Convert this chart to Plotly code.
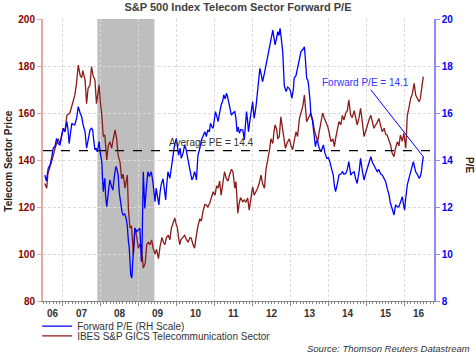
import plotly.graph_objects as go
from datetime import datetime

# ---------------- data (decimal years) ----------------
price_t = [2006.53,2006.58,2006.61,2006.67,2006.72,2006.80,2006.88,2006.93,2007.01,2007.06,
           2007.11,2007.19,2007.27,2007.32,2007.36,2007.41,2007.46,2007.50,2007.53,2007.59,
           2007.63,2007.67,2007.72,2007.76,2007.80,2007.85,2007.89,2007.93,2007.96,2007.99,
           2008.03,2008.07,2008.11,2008.16,2008.20,2008.24,2008.29,2008.32,2008.38,2008.42,
           2008.46,2008.51,2008.55,2008.59,2008.64,2008.70,2008.73,2008.77,2008.81,2008.86,
           2008.90,2008.94,2008.99,2009.03,2009.07,2009.12,2009.17,2009.21,2009.25,2009.30,
           2009.34,2009.38,2009.43,2009.47,2009.52,2009.56,2009.61,2009.65,2009.69,2009.73,
           2009.78,2009.82,2009.86,2009.90,2009.95,2009.98,2010.02,2010.05,2010.08,2010.11,
           2010.17,2010.21,2010.26,2010.30,2010.35,2010.38,2010.43,2010.47,2010.52,2010.56,
           2010.61,2010.65,2010.69,2010.74,2010.78,2010.82,2010.87,2010.92,2010.96,2011.01,
           2011.05,2011.09,2011.13,2011.17,2011.22,2011.26,2011.31,2011.35,2011.39,2011.44,
           2011.48,2011.53,2011.56,2011.61,2011.64,2011.68,2011.74,2011.78,2011.82,2011.87,
           2011.91,2011.95,2012.00,2012.04,2012.09,2012.13,2012.17,2012.22,2012.26,2012.31,
           2012.35,2012.39,2012.44,2012.48,2012.53,2012.56,2012.59,2012.63,2012.66,2012.70,
           2012.74,2012.78,2012.82,2012.86,2012.90,2012.96,2013.01,2013.05,2013.09,2013.14,
           2013.18,2013.23,2013.27,2013.32,2013.36,2013.39,2013.42,2013.47,2013.53,2013.58,
           2013.62,2013.67,2013.71,2013.75,2013.80,2013.84,2013.88,2013.93,2013.98,2014.02,
           2014.06,2014.11,2014.15,2014.18,2014.23,2014.27,2014.32,2014.36,2014.40,2014.45,
           2014.49,2014.53,2014.58,2014.62,2014.67,2014.71,2014.75,2014.80,2014.84,2014.88,
           2014.93,2014.97,2015.02,2015.06,2015.11,2015.15,2015.19,2015.24,2015.28,2015.32,
           2015.37,2015.41,2015.46,2015.50,2015.54,2015.59,2015.63,2015.67,2015.72,2015.76,
           2015.81,2015.85,2015.89,2015.94,2015.98,2016.03,2016.07,2016.11,2016.16,2016.20,
           2016.25,2016.29,2016.33,2016.38,2016.41,2016.44,2016.49]
price_v = [130,128,134,137,140,145,149,147,153.6,152,
           159,160,164.8,167.6,172,180.4,176,175,178,174,
           164,170.6,172,179.7,176,174,164,170,172,165,
           159,150,150.6,140,146,147.8,145,148,152.8,149,
           142,139,132,134,128,133.6,119,111,112,99.6,
           111,108,102.5,104,104,94,96,104,105,104,
           106,102.5,100,102,98,103,107,105,104,107,
           108,106,111,113,115.3,113,111,107,104,106,
           107,108,106,105,107,106.8,104,102.5,108,112,
           115,114,118,121,120.8,120,121.7,124,126.5,125,
           129,128,131,125,130,135,132,131,133.6,136,
           135,128,130.8,117.4,121,124,122.3,123,122,123.8,
           118.7,124,128.6,125,126.5,128,130,133.6,130,128,
           136,139,144,149,147,152,155,153,149,150,
           158.4,154,150,145,147,149,146,144.4,148,152,
           150,157.7,160,163,167.6,163,156.3,158,160,157,
           152.8,150,147.8,152,156,160,158,156.3,154,151,
           147.8,149,145.7,149,153,156.3,155,159,157,160,
           161,165.5,159,158,161,158,155,158,162,157,
           150,152,155,157,159,156,153.5,155,156,157.7,
           155,152,153.5,151,150.6,148,146.4,143,141.4,145,
           147.8,146,150.6,148,151.4,145,159,162,166.3,168,
           172.6,167.6,166,164.8,166,170.6,175.5]

pe_t = [2006.53,2006.57,2006.62,2006.67,2006.71,2006.75,2006.80,2006.84,2006.88,2006.93,
        2006.97,2007.02,2007.06,2007.11,2007.14,2007.17,2007.21,2007.24,2007.28,2007.32,
        2007.37,2007.41,2007.46,2007.50,2007.54,2007.59,2007.63,2007.67,2007.72,2007.76,
        2007.79,2007.82,2007.85,2007.88,2007.91,2007.94,2007.96,2007.99,2008.03,2008.05,
        2008.07,2008.09,2008.11,2008.13,2008.16,2008.20,2008.24,2008.28,2008.32,2008.36,
        2008.40,2008.43,2008.46,2008.49,2008.53,2008.56,2008.59,2008.63,2008.67,2008.70,
        2008.73,2008.75,2008.79,2008.82,2008.84,2008.86,2008.90,2008.95,2008.99,2009.03,
        2009.07,2009.09,2009.12,2009.16,2009.20,2009.24,2009.28,2009.33,2009.37,2009.40,
        2009.43,2009.46,2009.49,2009.53,2009.56,2009.59,2009.64,2009.68,2009.71,2009.73,
        2009.77,2009.82,2009.86,2009.90,2009.94,2009.99,2010.02,2010.05,2010.09,2010.12,
        2010.17,2010.21,2010.24,2010.28,2010.31,2010.34,2010.37,2010.40,2010.44,2010.47,
        2010.49,2010.52,2010.54,2010.56,2010.61,2010.65,2010.69,2010.74,2010.78,2010.82,
        2010.86,2010.89,2010.93,2010.96,2010.99,2011.02,2011.05,2011.09,2011.13,2011.17,
        2011.21,2011.24,2011.28,2011.31,2011.34,2011.37,2011.40,2011.44,2011.48,2011.53,
        2011.56,2011.59,2011.62,2011.65,2011.69,2011.74,2011.76,2011.78,2011.81,2011.84,
        2011.87,2011.89,2011.93,2011.96,2012.00,2012.02,2012.04,2012.09,2012.13,2012.16,
        2012.19,2012.23,2012.26,2012.31,2012.35,2012.39,2012.44,2012.48,2012.53,2012.56,
        2012.59,2012.63,2012.66,2012.69,2012.72,2012.75,2012.79,2012.81,2012.83,2012.86,
        2012.88,2012.92,2012.96,2013.00,2013.03,2013.07,2013.09,2013.14,2013.18,2013.23,
        2013.27,2013.32,2013.36,2013.39,2013.42,2013.45,2013.47,2013.51,2013.53,2013.57,
        2013.59,2013.62,2013.65,2013.68,2013.71,2013.75,2013.80,2013.83,2013.86,2013.90,
        2013.95,2013.99,2014.03,2014.08,2014.12,2014.15,2014.18,2014.23,2014.27,2014.32,
        2014.36,2014.40,2014.45,2014.49,2014.53,2014.56,2014.58,2014.62,2014.67,2014.71,
        2014.75,2014.80,2014.84,2014.88,2014.93,2014.97,2015.02,2015.06,2015.11,2015.15,
        2015.19,2015.24,2015.28,2015.32,2015.37,2015.41,2015.46,2015.50,2015.54,2015.59,
        2015.62,2015.65,2015.68,2015.72,2015.76,2015.81,2015.85,2015.89,2015.94,2015.97,
        2016.00,2016.03,2016.07,2016.11,2016.16,2016.19,2016.23,2016.26,2016.29,2016.33,
        2016.38,2016.41,2016.44,2016.46,2016.49]
pe_v = [13.36,13.1,13.65,13.8,14.1,14.5,14.6,14.92,14.7,14.64,
        15.0,15.35,15.2,15.63,15.3,14.7,15.2,15.56,15.5,15.49,
        15.8,16.27,16.0,15.84,15.49,15.2,14.5,14.9,15.28,15.35,
        15.28,14.8,14.43,14.5,14.35,14.6,14.78,14.3,13.93,13.2,
        12.65,13.0,13.22,12.5,12.01,12.6,13.15,12.9,12.72,13.3,
        13.72,13.6,13.36,12.6,12.01,11.8,11.66,11.7,11.52,11.2,
        10.52,10.3,9.11,8.98,9.6,10.24,11.1,10.95,11.0,11.09,
        9.67,10.5,13.5,11.94,12.8,13.5,13.3,13.5,13.1,12.51,
        12.23,12.8,12.5,12.09,12.6,12.94,13.2,12.8,12.3,12.8,
        13.5,13.22,13.7,14.21,14.6,14.92,14.6,14.21,14.5,14.07,
        14.3,14.64,14.5,14.21,14.0,13.65,13.4,13.15,13.3,13.5,
        13.4,13.15,13.7,14.21,14.5,14.85,15.0,15.2,15.0,15.28,
        15.2,15.56,15.4,15.35,15.7,16.06,15.9,15.63,16.0,16.34,
        16.5,16.77,16.6,16.84,16.7,16.48,16.2,15.91,16.0,16.06,
        15.77,15.2,15.4,15.14,15.3,15.28,15.1,14.85,15.5,16.06,
        15.6,15.2,15.7,16.06,16.48,16.1,15.77,16.3,16.84,17.4,
        17.9,17.6,17.33,17.7,18.04,18.4,18.75,19.1,19.53,19.2,
        18.9,19.2,19.46,19.3,19.6,19.2,18.61,17.9,17.19,17.0,
        16.91,17.1,17.05,16.9,16.62,17.0,17.48,17.6,17.9,18.2,
        18.61,18.7,18.82,18.2,17.48,17.4,17.19,16.5,15.91,15.7,
        15.49,15.0,14.57,14.8,14.78,14.5,14.35,14.5,14.64,14.3,
        14.07,14.1,13.93,13.6,13.36,12.9,12.65,13.0,13.36,13.4,
        13.5,13.4,13.43,13.6,13.93,13.6,13.36,13.45,13.5,13.2,
        13.0,13.5,14.07,13.6,13.15,13.4,13.65,13.9,14.14,13.9,
        13.79,13.6,13.5,13.6,13.4,13.36,13.2,13.08,12.8,12.51,
        12.2,12.01,11.8,11.66,12.09,12.0,12.01,12.2,12.44,12.1,
        11.87,12.4,12.94,13.2,13.5,13.7,13.93,13.7,13.5,13.4,
        13.22,13.3,13.5,13.8,14.14]

avg_pe = 14.4
rec_start, rec_end = "2007-12-01", "2009-06-01"
label_years = [2006, 2007, 2008, 2009, 2010, 2011, 2012, 2013, 2014, 2015, 2016]
year_labels = ["06", "07", "08", "09", "10", "11", "12", "13", "14", "15", "16"]
price_name = "IBES S&P GICS Telecommunication Sector"
pe_name = "Forward P/E (RH Scale)"


def to_date(t):
    y = int(t)
    a, b = datetime(y, 1, 1), datetime(y + 1, 1, 1)
    return a + (b - a) * (t - y)


price_x = [to_date(t) for t in price_t]
pe_x = [to_date(t) for t in pe_t]
x_lo, x_hi = to_date(2006.482), to_date(2016.771)

FONT = "Liberation Sans, Arial, sans-serif"
GRID = "#DADADA"
GRID_DASH = "3px,2px"

fig = go.Figure()
fig.add_trace(go.Scatter(x=price_x, y=price_v, mode="lines", name=price_name,
                         line=dict(color="#8B1A1A", width=1.3), legend="legend2"))
fig.add_trace(go.Scatter(x=pe_x, y=pe_v, mode="lines", name=pe_name, yaxis="y2",
                         line=dict(color="#0000FF", width=1.3), legend="legend"))

annotations = []
for yr, lab in zip(label_years, year_labels):
    left = max(to_date(yr), x_lo)
    right = min(to_date(yr + 1), x_hi)
    mid = left + (right - left) / 2
    annotations.append(dict(x=mid, y=-0.043, xref="x", yref="paper", text=lab,
                            showarrow=False, xanchor="center", yanchor="middle",
                            font=dict(size=10, color="#333333", family=FONT, weight="bold")))

annotations += [
    dict(x=-0.088, y=0.496, xref="paper", yref="paper", text="Telecom Sector Price",
         textangle=-90, showarrow=False, xanchor="center", yanchor="middle",
         font=dict(size=10, color="#222222", family=FONT, weight="bold")),
    dict(x=1.092, y=0.482, xref="paper", yref="paper", text="P/E",
         textangle=90, showarrow=False, xanchor="center", yanchor="middle",
         font=dict(size=10, color="#3A1010", family=FONT, weight="bold")),
    dict(x=0.317, y=avg_pe, xref="paper", yref="y2", text=f"Average PE = {avg_pe:.1f}",
         xanchor="left", yanchor="bottom", yshift=1, showarrow=False,
         font=dict(size=10, color="#333333", family=FONT)),
    dict(x=pe_x[-1], y=pe_v[-1], xref="x", yref="y2", text=f"Forward P/E = {pe_v[-1]:.1f}",
         showarrow=True, arrowhead=0, arrowwidth=1, arrowcolor="#0000FF",
         ax=-58, ay=-74, font=dict(size=10, color="#3333FF", family=FONT)),
    dict(x=1.097, y=-0.170, xref="paper", yref="paper",
         text="<i>Source: Thomson Reuters Datastream</i>", xanchor="right", yanchor="middle",
         showarrow=False, font=dict(size=9.5, color="#333333", family=FONT)),
]

shapes = [
    dict(type="rect", xref="x", yref="paper", x0=rec_start, x1=rec_end, y0=0, y1=1,
         fillcolor="#BEBEBE", line=dict(width=0), layer="below"),
    dict(type="line", xref="paper", yref="y2", x0=0, x1=1, y0=avg_pe, y1=avg_pe,
         line=dict(color="#000000", width=1.3, dash="dash")),
]

legend_common = dict(xanchor="left", yanchor="middle", bgcolor="rgba(0,0,0,0)",
                     borderwidth=0, font=dict(size=10, color="#333333", family=FONT),
                     itemwidth=30)

fig.update_layout(
    width=476, height=354,
    margin=dict(l=43, r=42, t=19, b=53, autoexpand=False),
    paper_bgcolor="white", plot_bgcolor="white",
    font=dict(family=FONT, size=10, color="#333333"),
    title=dict(text="S&P 500 Index Telecom Sector Forward P/E", x=0.5, xref="container",
               xanchor="center", y=1 - 7 / 354, yref="container", yanchor="middle",
               font=dict(size=11, color="#404040", family=FONT, weight="bold")),
    xaxis=dict(type="date", range=[x_lo, x_hi], tick0="2007-01-01", dtick="M12",
               showticklabels=False, ticks="outside", ticklen=4, tickcolor="#888888",
               showgrid=True, gridcolor=GRID, griddash=GRID_DASH, gridwidth=1,
               showline=True, linecolor="#888888", linewidth=1, zeroline=False,
               minor=dict(tick0="2007-01-01", dtick="M1", ticks="outside", ticklen=2,
                          tickcolor="#888888", showgrid=False)),
    yaxis=dict(range=[80, 200], dtick=20, tick0=80, showgrid=True, gridcolor=GRID,
               griddash=GRID_DASH, gridwidth=1, zeroline=False,
               showline=True, linecolor="#E3A9A9", linewidth=2,
               ticks="outside", ticklen=4, tickcolor="#E3A9A9",
               tickfont=dict(size=10, color="#8B0000", family=FONT, weight="bold")),
    yaxis2=dict(range=[8, 20], dtick=2, tick0=8, overlaying="y", side="right",
                showgrid=False, zeroline=False, showline=True, linecolor="#8C8CFF",
                linewidth=1.5, ticks="outside", ticklen=4, tickcolor="#8C8CFF",
                tickfont=dict(size=10, color="#0000FF", family=FONT, weight="bold")),
    legend=dict(x=-0.015, y=-0.089, **legend_common),
    legend2=dict(x=-0.015, y=-0.124, **legend_common),
    annotations=annotations,
    shapes=shapes,
    showlegend=True,
)

fig.write_html("out.html")
